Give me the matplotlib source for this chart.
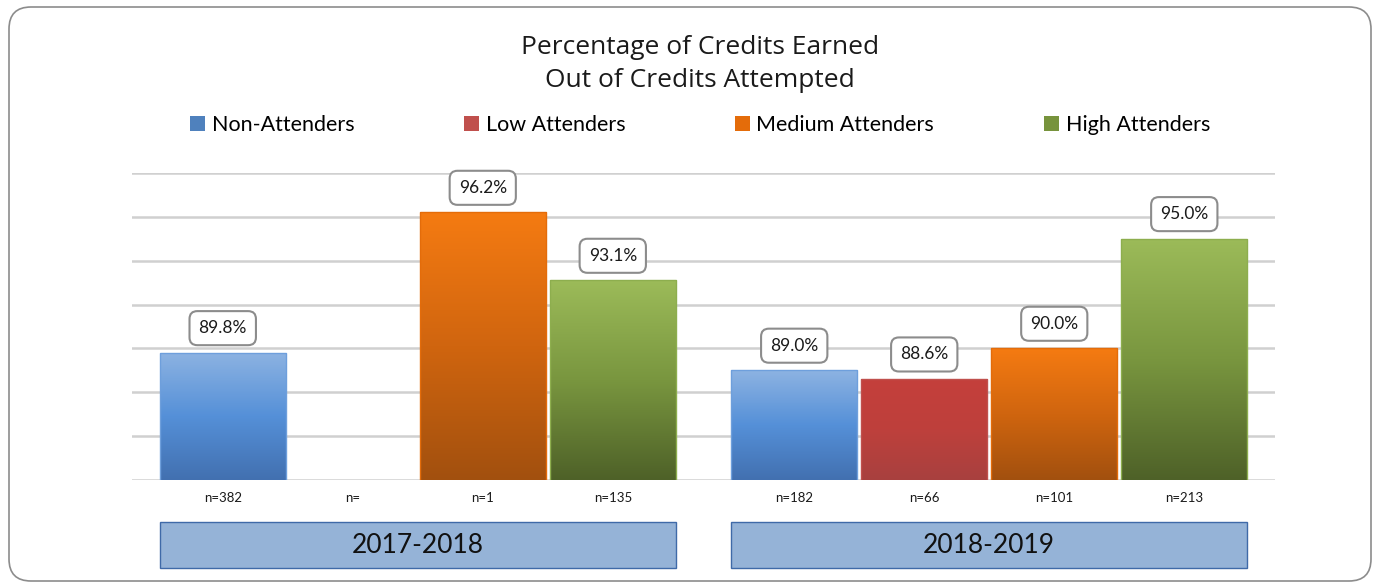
import numpy as np
import matplotlib
matplotlib.use("Agg")
import matplotlib.pyplot as plt
from matplotlib.patches import FancyBboxPatch, Rectangle, Patch
from matplotlib.colors import LinearSegmentedColormap
import matplotlib.transforms as mtransforms

plt.rcParams['font.family'] = ['Lato', 'DejaVu Sans']

# ---------------- data ----------------
years = ["2017-2018", "2018-2019"]
series = ["Non-Attenders", "Low Attenders", "Medium Attenders", "High Attenders"]
values = {
    "Non-Attenders":    [89.8, 89.0],
    "Low Attenders":    [np.nan, 88.6],
    "Medium Attenders": [96.2, 90.0],
    "High Attenders":   [93.1, 95.0],
}
n_labels = {
    "Non-Attenders":    ["n=382", "n=182"],
    "Low Attenders":    ["n=", "n=66"],
    "Medium Attenders": ["n=1", "n=101"],
    "High Attenders":   ["n=135", "n=213"],
}
title = "Percentage of Credits Earned\nOut of Credits Attempted"

# gradient colours (top, middle, bottom)
grad = {
    "Non-Attenders":    ["#8DB3E2", "#5590D8", "#4270B0"],
    "Low Attenders":    ["#C43F3B", "#BE403C", "#A8413F"],
    "Medium Attenders": ["#F57B12", "#D0650F", "#A2500E"],
    "High Attenders":   ["#9CBB59", "#79963F", "#4E6128"],
}
edge = {
    "Non-Attenders": "#6E9FDC",
    "Low Attenders": "#C0504D",
    "Medium Attenders": "#E46C0A",
    "High Attenders": "#8DAE4E",
}
legend_col = {
    "Non-Attenders": "#4F81BD",
    "Low Attenders": "#C0504D",
    "Medium Attenders": "#E46C0A",
    "High Attenders": "#77933C",
}

W, H = 1373, 587
fig = plt.figure(figsize=(W / 100, H / 100), dpi=100)

# outer rounded frame (pixel coordinates)
frame = FancyBboxPatch((9, H - 581), 1362, 574,
                       boxstyle="round,pad=0,rounding_size=22",
                       transform=mtransforms.IdentityTransform(),
                       facecolor="none", edgecolor="#8C8C8C", linewidth=1.2,
                       zorder=-1)
fig.patches.append(frame)

ax_l, ax_r = 132 / W, 1275 / W
ax_b, ax_t = (H - 480) / H, (H - 173) / H
ax = fig.add_axes([ax_l, ax_b, ax_r - ax_l, ax_t - ax_b])
ax.set_facecolor("none")

ymin, ymax = 84, 98
for s in ax.spines.values():
    s.set_visible(False)
ax.set_yticks(np.arange(ymin, ymax + 0.1, 2))
ax.set_yticklabels([])
ax.tick_params(axis="y", length=0)
ax.yaxis.grid(True, color="#D0D0D0", linewidth=1.8)
ax.set_axisbelow(True)

x = np.arange(len(years))
slot = 0.2275
bw = 0.221
tick_pos, tick_lab = [], []
for i, s in enumerate(series):
    offs = (i - 1.5) * slot
    vals = values[s]
    bars = ax.bar(x + offs, vals, width=bw, bottom=0, color="none",
                  edgecolor=edge[s], linewidth=1.0, zorder=3)
    cmap = LinearSegmentedColormap.from_list(s, grad[s][::-1])
    for j, b in enumerate(bars):
        tick_pos.append(x[j] + offs)
        tick_lab.append(n_labels[s][j])
        v = vals[j]
        if np.isnan(v):
            continue
        x0 = b.get_x()
        x1 = x0 + b.get_width()
        img = ax.imshow(np.linspace(0, 1, 256).reshape(-1, 1), cmap=cmap,
                        extent=[x0, x1, ymin, v], origin="lower",
                        aspect="auto", zorder=2, interpolation="bicubic")
        img.set_clip_path(b)
        ax.annotate(f"{v:.1f}%", xy=(b.get_x() + b.get_width() / 2, v),
                    xytext=(0, 12), textcoords="offset points",
                    ha="center", va="bottom", fontsize=12.5, color="#1A1A1A",
                    zorder=5,
                    bbox=dict(boxstyle="round,pad=0.52,rounding_size=0.45",
                              facecolor="white", edgecolor="#8C8C8C",
                              linewidth=1.5))
ax.set_aspect("auto")
ax.set_xlim(-0.5, 1.5)
ax.set_ylim(ymin, ymax)

ax.set_xticks(tick_pos)
ax.set_xticklabels(tick_lab, fontsize=9.5, color="#1A1A1A")
ax.tick_params(axis="x", length=0, pad=9)

# year boxes under each group
trans = mtransforms.blended_transform_factory(ax.transData, ax.transAxes)
for j, yr in enumerate(years):
    left = x[j] - 1.5 * slot - bw / 2
    right = x[j] + 1.5 * slot + bw / 2
    rect = Rectangle((left, -0.287), right - left, 0.15, transform=trans,
                     facecolor="#95B3D7", edgecolor="#3F6AA8", linewidth=1.0,
                     clip_on=False)
    ax.add_patch(rect)
    ax.text((left + right) / 2, -0.212, yr, transform=trans, ha="center",
            va="center", fontsize=19, color="#111111")

# title
fig.text(700 / W, 1 - 64 / H, title, ha="center", va="center", fontsize=19,
         color="#1A1A1A", linespacing=1.38, family=['Open Sans', 'DejaVu Sans'])

# legend
handles = [Patch(facecolor=legend_col[s], edgecolor="none") for s in series]
fig.legend(handles, series, loc="center", bbox_to_anchor=(700 / W, 1 - 125 / H),
           ncol=4, frameon=False, fontsize=15.5, handlelength=0.7,
           handleheight=0.7, handletextpad=0.3, columnspacing=5.1)

fig.savefig("out.png", dpi=100)
